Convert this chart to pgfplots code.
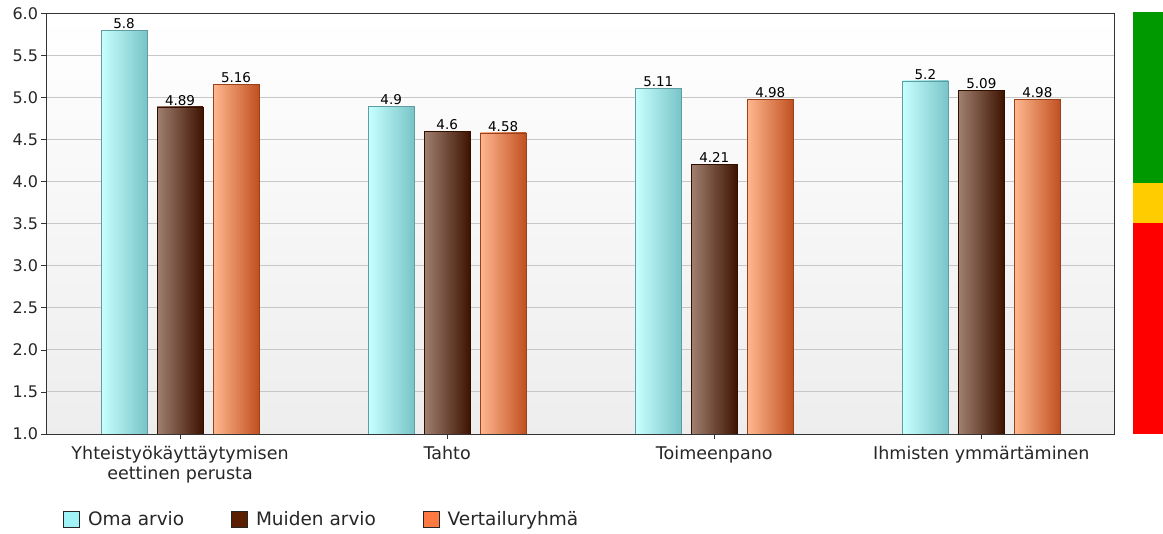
\documentclass[border=0pt]{standalone}
\usepackage{fontspec}
\setmainfont{DejaVu Sans}
\usepackage{pgfplots}
\pgfplotsset{compat=1.18}
\definecolor{cyanL}{HTML}{C8FFFF}
\definecolor{cyanM}{HTML}{A6F4F6}
\definecolor{cyanR}{HTML}{78C4C8}
\definecolor{cyanF}{HTML}{A0F4F8}
\definecolor{brnL}{HTML}{A08070}
\definecolor{brnM}{HTML}{6A2400}
\definecolor{brnR}{HTML}{3E1200}
\definecolor{brnF}{HTML}{5A1E00}
\definecolor{orgL}{HTML}{FFB890}
\definecolor{orgM}{HTML}{FF7A38}
\definecolor{orgR}{HTML}{C05020}
\definecolor{orgF}{HTML}{FF7A40}
\pgfplotsset{
  omabar/.style={forget plot, bar shift=-56bp, draw=cyanR!80!black, left color=cyanL, middle color=cyanM, right color=cyanR},
  muibar/.style={forget plot, bar shift=0bp, draw=brnR!80!black, left color=brnL, middle color=brnM, right color=brnR},
  verbar/.style={forget plot, bar shift=56bp, draw=orgR!80!black, left color=orgL, middle color=orgM, right color=orgR},
}
\begin{document}
\begin{tikzpicture}
\useasboundingbox (0,0) rectangle (1163bp,534bp);
\begin{axis}[
  at={(46.5bp,100bp)}, anchor=south west,
  scale only axis, width=1068.5bp, height=420.5bp,
  xmin=-0.5, xmax=3.5, ymin=1, ymax=6,
  enlargelimits=false,
  ybar, bar width=46bp,
  xtick={0,1,2,3},
  xtick pos=left, ytick pos=left,
  xticklabels={{Yhteistyökäyttäytymisen\\eettinen perusta},Tahto,Toimeenpano,Ihmisten ymmärtäminen},
  xticklabel style={align=center, font=\fontsize{17.5bp}{20bp}\selectfont, text=black!85, yshift=-4bp},
  ytick={1,1.5,2,2.5,3,3.5,4,4.5,5,5.5,6},
  yticklabel style={font=\fontsize{16bp}{18bp}\selectfont, text=black!85,
    /pgf/number format/fixed, /pgf/number format/fixed zerofill, /pgf/number format/precision=1, /pgf/number format/assume math mode=true},
  ymajorgrids, grid style={black!22, line width=1pt},
  axis line style={black!80, line width=1pt},
  tick align=outside, tick style={black!80, line width=0.8pt},
  major tick length=5bp,
  axis background/.style={top color=white, bottom color=black!7},
  nodes near coords,
  nodes near coords style={font=\fontsize{13.5bp}{15bp}\selectfont, /pgf/number format/assume math mode=true, inner sep=1bp, text=black},
  legend columns=3,
  legend image code/.code={\draw[#1,draw=black!85,line width=0.8pt] (0bp,-8bp) rectangle (16bp,8bp);},
  legend style={draw=none, fill=none, inner sep=0pt, at={(axis description cs:0.0155,-0.202)}, anchor=west,
    font=\fontsize{18.5bp}{21bp}\selectfont,
    nodes={inner sep=0pt, text=black!85},
    /tikz/every odd column/.append style={column sep=8bp},
    /tikz/every even column/.append style={column sep=47bp}},
]
\addlegendimage{fill=cyanF}\addlegendentry{Oma arvio}
\addlegendimage{fill=brnF}\addlegendentry{Muiden arvio}
\addlegendimage{fill=orgF}\addlegendentry{Vertailuryhmä}
% Oma arvio
\addplot[omabar] coordinates {(0,5.8)};
\addplot[omabar] coordinates {(1,4.9)};
\addplot[omabar] coordinates {(2,5.11)};
\addplot[omabar] coordinates {(3,5.2)};
% Muiden arvio
\addplot[muibar] coordinates {(0,4.89)};
\addplot[muibar] coordinates {(1,4.6)};
\addplot[muibar] coordinates {(2,4.21)};
\addplot[muibar] coordinates {(3,5.09)};
% Vertailuryhmä
\addplot[verbar] coordinates {(0,5.16)};
\addplot[verbar] coordinates {(1,4.58)};
\addplot[verbar] coordinates {(2,4.98)};
\addplot[verbar] coordinates {(3,4.98)};
\end{axis}
\begin{axis}[
  at={(1133bp,100bp)}, anchor=south west,
  scale only axis, width=30bp, height=421bp,
  xmin=0, xmax=1, ymin=1, ymax=6, hide axis]
\addplot[fill={rgb,255:red,255;green,0;blue,0}, draw=none] coordinates {(0,1) (1,1) (1,3.5) (0,3.5)} -- cycle;
\addplot[fill={rgb,255:red,255;green,204;blue,0}, draw=none] coordinates {(0,3.5) (1,3.5) (1,3.98) (0,3.98)} -- cycle;
\addplot[fill={rgb,255:red,0;green,153;blue,0}, draw=none] coordinates {(0,3.98) (1,3.98) (1,6.02) (0,6.02)} -- cycle;
\end{axis}
\end{tikzpicture}
\end{document}
